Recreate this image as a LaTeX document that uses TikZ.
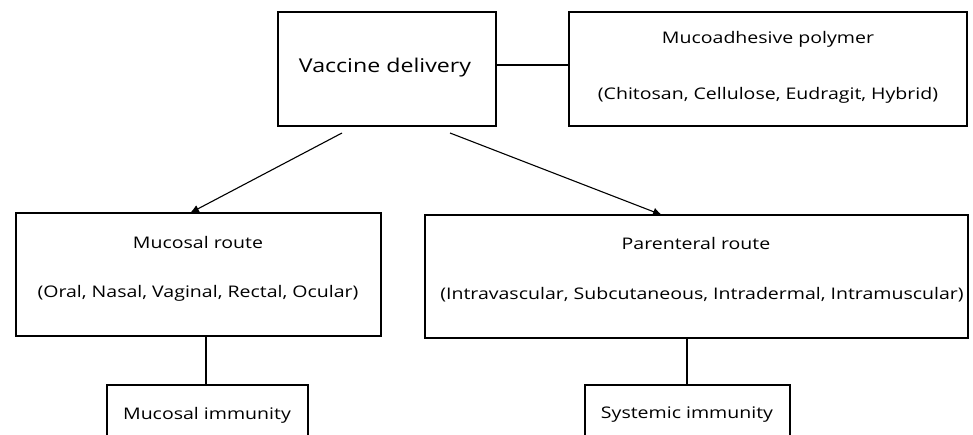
\documentclass[tikz,border=0pt]{standalone}
\usepackage{fontspec}
\setmainfont{Open Sans}[FakeStretch=1.22]
\usetikzlibrary{arrows.meta}
\begin{document}
\begin{tikzpicture}[x=1pt,y=-1pt,
  box/.style={draw,line width=1.4pt,rectangle},
  txt/.style={inner sep=0pt,font=\fontsize{16}{18}\selectfont},
  conn/.style={line width=1.2pt},
  arr/.style={line width=1.1pt,-{Latex[length=9pt,width=8pt]}}]
\clip (0,0) rectangle (973,435);
\useasboundingbox (0,0) rectangle (973,435);
% boxes
\draw[box] (278,12) rectangle (496,126);
\node[txt,font=\fontsize{19}{21}\selectfont] (vd) at (385,68) {Vaccine delivery};
\coordinate (vdR) at (496,65);
\draw[box] (569,12) rectangle (967,126);
\coordinate (mpL) at (569,65);
\node[txt] (mp) at (768,39) {Mucoadhesive polymer};
\node[txt] (mpd) at (768,95) {(Chitosan, Cellulose, Eudragit, Hybrid)};
\draw[box] (16,213) rectangle (381,336);
\node[txt] (mr) at (198,243) {Mucosal route};
\node[txt] (mrd) at (198,293) {(Oral, Nasal, Vaginal, Rectal, Ocular)};
\draw[box] (425,215) rectangle (968,338);
\node[txt] (pr) at (696,244) {Parenteral route};
\node[txt] (prd) at (702,295) {(Intravascular, Subcutaneous, Intradermal, Intramuscular)};
\draw[box] (107,385) rectangle (308,450);
\node[txt] (mi) at (207,415) {Mucosal immunity};
\draw[box] (585,385) rectangle (790,450);
\node[txt] (si) at (687,415) {Systemic immunity};
% connectors
\coordinate (a1) at (342,133);
\coordinate (a1e) at (190,213);
\coordinate (a2) at (450,133);
\coordinate (a2e) at (662,215);
\draw[conn] (vdR) -- (mpL);
\draw[arr] (a1) -- (a1e);
\draw[arr] (a2) -- (a2e);
\coordinate (m1) at (206,336);
\coordinate (m2) at (206,385);
\coordinate (p1) at (687,338);
\coordinate (p2) at (687,385);
\draw[conn] (m1) -- (m2);
\draw[conn] (p1) -- (p2);
\end{tikzpicture}
\end{document}
